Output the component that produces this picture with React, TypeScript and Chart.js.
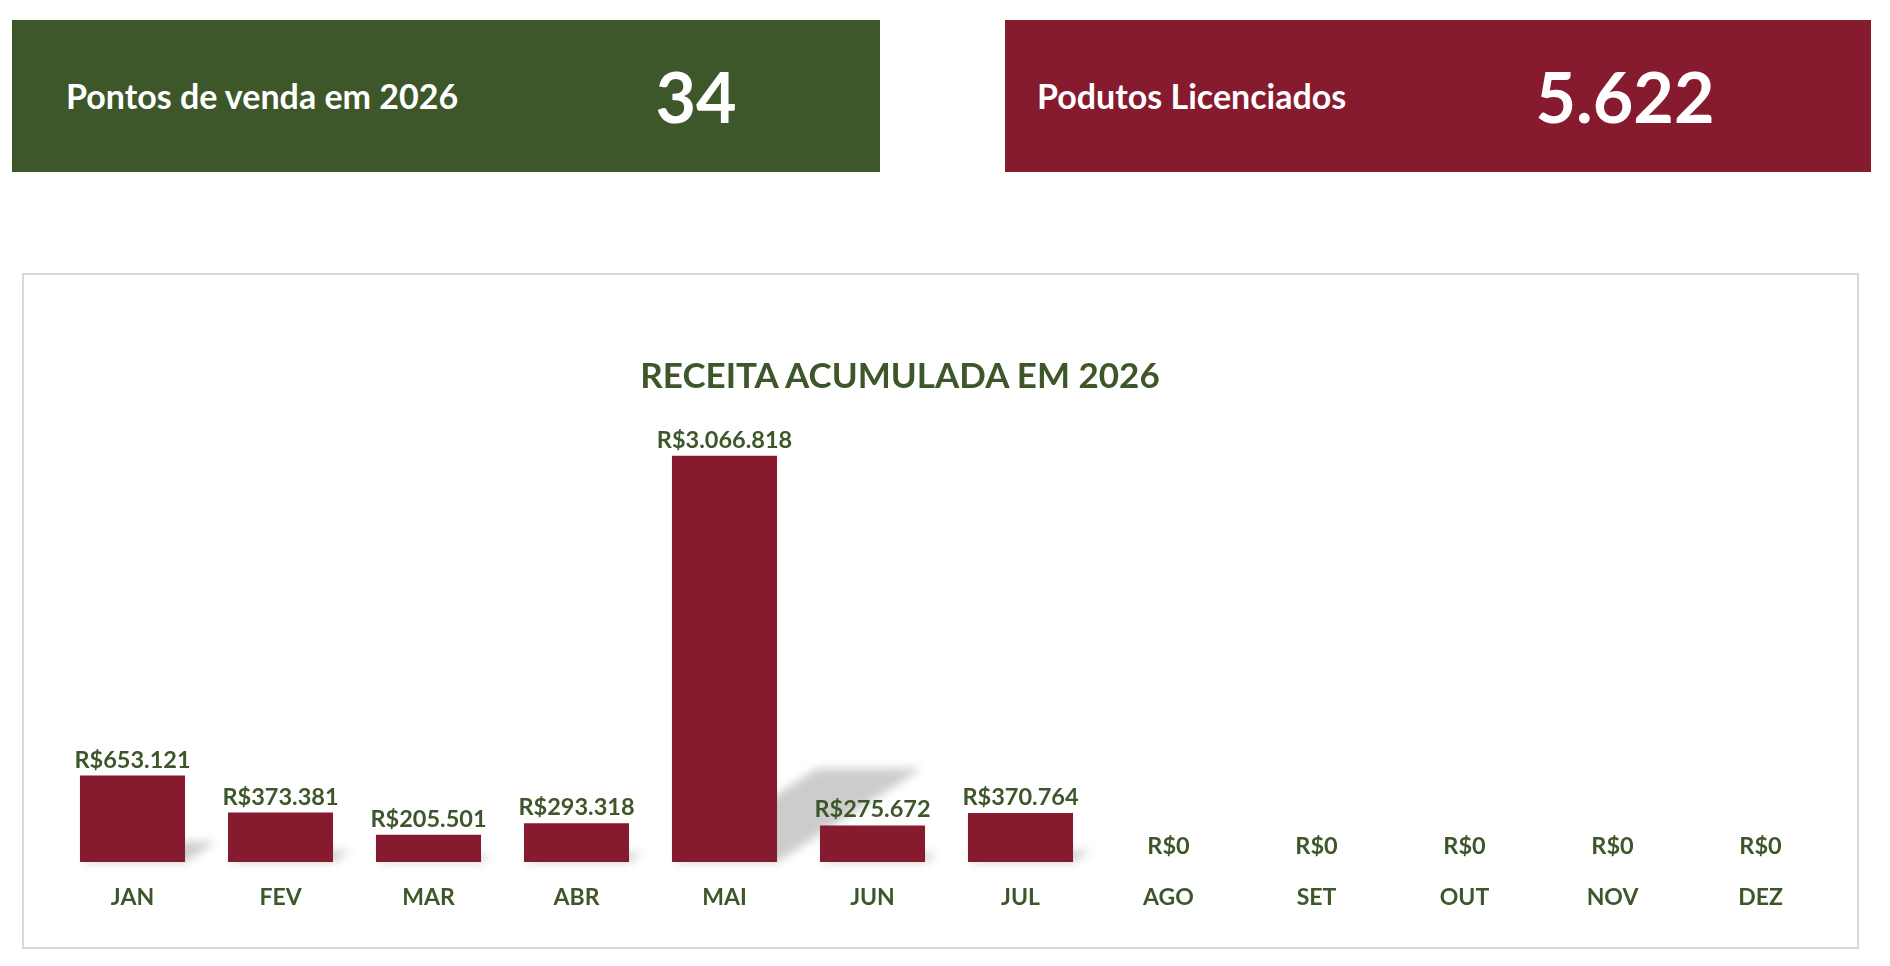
import { useEffect, useRef } from "react";
import { Chart, registerables, Plugin } from "chart.js";

Chart.register(...registerables);

// Chart data
const months = ["JAN", "FEV", "MAR", "ABR", "MAI", "JUN", "JUL", "AGO", "SET", "OUT", "NOV", "DEZ"];
const receita = [653121, 373381, 205501, 293318, 3066818, 275672, 370764, 0, 0, 0, 0, 0];

// KPI cards
const kpiLabels = ["Pontos de venda em 2026", "Podutos Licenciados"];
const kpiValues = ["34", "5.622"];

const GREEN = "#3E572A";
const RED = "#861A2E";
const FONT = "Lato, 'Open Sans', sans-serif";

const formatBRL = (v: number) =>
  "R$" + String(Math.round(v)).replace(/\B(?=(\d{3})+(?!\d))/g, ".");

// perspective shadow behind each bar, cast to the upper right
const shadowPlugin: Plugin<"bar"> = {
  id: "barShadow",
  beforeDatasetsDraw(chart) {
    const ctx = chart.ctx;
    const meta = chart.getDatasetMeta(0);
    ctx.save();
    ctx.filter = "blur(5px)";
    ctx.fillStyle = "rgba(0,0,0,0.2)";
    meta.data.forEach((el: any) => {
      const h = (el.base - el.y) * 0.23;
      if (h < 1) return;
      const shift = h * 1.55;
      const left = el.x - el.width / 2;
      const right = el.x + el.width / 2;
      ctx.beginPath();
      ctx.moveTo(left, el.base);
      ctx.lineTo(right, el.base);
      ctx.lineTo(right + shift, el.base - h);
      ctx.lineTo(left + shift, el.base - h);
      ctx.closePath();
      ctx.fill();
    });
    ctx.restore();
  },
};

// value labels above the bars
const valueLabelPlugin: Plugin<"bar"> = {
  id: "valueLabels",
  afterDatasetsDraw(chart) {
    const ctx = chart.ctx;
    const meta = chart.getDatasetMeta(0);
    ctx.save();
    ctx.font = `bold 23.5px ${FONT}`;
    ctx.fillStyle = GREEN;
    ctx.textAlign = "center";
    ctx.textBaseline = "alphabetic";
    meta.data.forEach((el: any, i: number) => {
      ctx.fillText(formatBRL(receita[i]), el.x, el.y - 8);
    });
    ctx.restore();
  },
};

export default function App() {
  const chartRef = useRef<HTMLCanvasElement>(null);
  const chartInstance = useRef<Chart | null>(null);

  useEffect(() => {
    document.body.style.margin = "0";
    if (chartRef.current) {
      const ctx = chartRef.current.getContext("2d");
      if (ctx) {
        chartInstance.current?.destroy();
        chartInstance.current = new Chart(ctx, {
          type: "bar",
          data: {
            labels: months,
            datasets: [
              {
                label: "Receita",
                data: receita,
                backgroundColor: RED,
                borderWidth: 0,
                barPercentage: 0.71,
                categoryPercentage: 1,
              },
            ],
          },
          options: {
            animation: false,
            responsive: true,
            maintainAspectRatio: false,
            layout: { padding: { left: 34.5, right: 22.5, top: 123.5, bottom: 13.4 } },
            plugins: {
              legend: { display: false },
              tooltip: { enabled: false },
              title: { display: false },
            },
            scales: {
              x: {
                grid: { display: false, drawTicks: false },
                border: { display: false },
                ticks: {
                  color: GREEN,
                  padding: 22,
                  font: { family: FONT, size: 23, weight: "bold" },
                },
              },
              y: {
                display: false,
                min: 0,
                max: 3500000,
              },
            },
          },
          plugins: [shadowPlugin, valueLabelPlugin],
        });
      }
    }
    return () => {
      chartInstance.current?.destroy();
    };
  }, []);

  return (
    <div style={{ position: "relative", width: 1890, height: 966, background: "#fff", fontFamily: FONT }}>
      <KpiCard left={12} width={868} color={GREEN} label={kpiLabels[0]} labelLeft={54} value={kpiValues[0]} valueCenter={684} />
      <KpiCard left={1005} width={866} color={RED} label={kpiLabels[1]} labelLeft={32} value={kpiValues[1]} valueCenter={620} />

      {/* Chart panel */}
      <div
        style={{
          position: "absolute",
          left: 22,
          top: 273,
          width: 1837,
          height: 676,
          border: "2px solid #D9D9D9",
          boxSizing: "border-box",
        }}
      >
        <div style={{ position: "absolute", left: 0, top: 0, width: 1833, height: 672 }}>
          <canvas ref={chartRef}></canvas>
        </div>
      </div>
      <div
        style={{
          position: "absolute",
          left: 900,
          top: 357,
          transform: "translateX(-50%)",
          whiteSpace: "nowrap",
          fontSize: 35,
          lineHeight: 1,
          fontWeight: "bold",
          color: GREEN,
        }}
      >
        RECEITA ACUMULADA EM 2026
      </div>
    </div>
  );
}

function KpiCard({
  left,
  width,
  color,
  label,
  labelLeft,
  value,
  valueCenter,
}: {
  left: number;
  width: number;
  color: string;
  label: string;
  labelLeft: number;
  value: string;
  valueCenter: number;
}) {
  return (
    <div style={{ position: "absolute", left, top: 20, width, height: 152, background: color, color: "#fff" }}>
      <div
        style={{
          position: "absolute",
          left: labelLeft,
          top: 0,
          bottom: 0,
          display: "flex",
          alignItems: "center",
          fontSize: 34,
          lineHeight: 1,
          fontWeight: "bold",
          whiteSpace: "nowrap",
        }}
      >
        {label}
      </div>
      <div
        style={{
          position: "absolute",
          left: valueCenter,
          top: 0,
          bottom: 0,
          display: "flex",
          alignItems: "center",
          transform: "translateX(-50%)",
          fontSize: 70,
          lineHeight: 1,
          fontWeight: "bold",
        }}
      >
        {value}
      </div>
    </div>
  );
}
